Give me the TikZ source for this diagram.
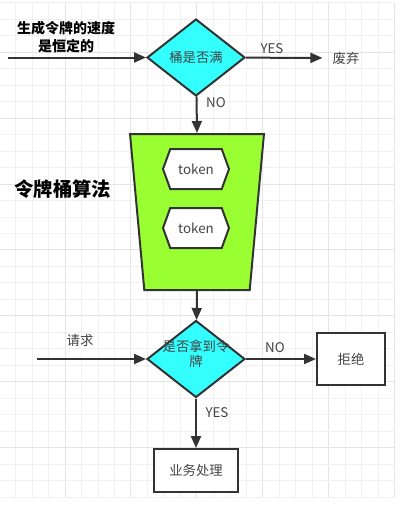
\documentclass[tikz,border=0pt]{standalone}
\usepackage{fontspec}
\setmainfont{Noto Sans CJK SC}
\usepackage{tikz}
\usetikzlibrary{arrows.meta,positioning,shapes.geometric,shapes.symbols}
\definecolor{linegray}{HTML}{333333}
\definecolor{txtgray}{HTML}{444444}
\definecolor{dcyan}{HTML}{33FFFF}
\definecolor{bgreen}{HTML}{99FF33}
\definecolor{gridminor}{HTML}{F0F0F0}
\definecolor{gridmajor}{HTML}{E4E4E4}

\begin{document}
\begin{tikzpicture}[x=0.75pt,y=-0.75pt,font=\fontsize{10}{12}\selectfont]
      \tikzstyle{dia}=[diamond,draw=linegray,line width=1.5pt,fill=dcyan,text=txtgray,
        minimum width=73.5pt,minimum height=57.75pt,inner sep=0pt]
      \tikzstyle{box}=[rectangle,draw=linegray,line width=1.5pt,fill=white,text=txtgray]
      \tikzstyle{tok}=[signal,signal to=east and west,signal pointer angle=140,draw=linegray,
        line width=1.5pt,fill=white,text=txtgray,minimum width=49.5pt,minimum height=30pt]
      \tikzstyle{arr}=[draw=linegray,line width=1.5pt,-{Triangle[length=9pt,width=7.5pt]}]
      \tikzstyle{lbl}=[text=txtgray,inner sep=0pt]
      \useasboundingbox (0,0) rectangle (414,511);
      \fill[white] (0,0) rectangle (414,511);
      % grid
      \foreach \k in {-1,...,23}{
        \pgfmathtruncatemacro{\m}{mod(\k+8,4)}
        \ifnum\m=3 \def\gc{gridmajor}\else\def\gc{gridminor}\fi
        \draw[\gc,line width=0.75pt] (15.7+16.47*\k,2.9) -- (15.7+16.47*\k,497.7);
      }
      \foreach \k in {0,...,30}{
        \pgfmathtruncatemacro{\m}{mod(\k,4)}
        \ifnum\m=3 \def\gc{gridmajor}\else\def\gc{gridminor}\fi
        \draw[\gc,line width=0.75pt] (-0.8,2.9+16.47*\k) -- (394.5,2.9+16.47*\k);
      }
      % shapes
      \node[dia] (full) at (196,57.5) {桶是否满};
      \node[trapezium,trapezium stretches=true,trapezium angle=82.3,shape border rotate=180,
        draw=linegray,line width=1.5pt,fill=bgreen,minimum width=100.5pt,minimum height=117pt]
        (bucket) at (197,212) {};
      \node[tok] (tokA) at (196,169) {token};
      \node[tok] (tokB) at (196,228) {token};
      \node[dia] (got) at (196,359) {\smash{\begin{tabular}{@{}c@{}}是否拿到令\\[-1pt]牌\end{tabular}}};
      \node[box,minimum width=51pt,minimum height=39pt] (reject) at (351,359) {拒绝};
      \node[box,minimum width=63pt,minimum height=32.25pt] (work) at (196,470.5) {业务处理};
      \node[lbl,inner xsep=7.5pt] (drop) at (346,58) {废弃};
      \coordinate (gen) at (8,57.5);
      \coordinate (req) at (37,359);
      % texts
      \node[font=\fontsize{10.5}{13}\bfseries,align=center] (rate) at (66,37) {生成令牌的速度\\是恒定的};
      \node[font=\fontsize{14.5}{16}\bfseries] (algo) at (63,189) {令牌桶算法};
      % connectors
      \draw[arr] (gen) -- (full);
      \draw[arr] (full) -- (drop);
      \node[lbl] at (272,49) {YES};
      \draw[arr] (full) -- (bucket.north);
      \node[lbl] at (216,103) {NO};
      \draw[arr] (bucket.south) -- (got);
      \draw[arr] (req) -- (got);
      \node[lbl] at (80,340) {请求};
      \draw[arr] (got) -- (reject);
      \node[lbl] at (275,348) {NO};
      \draw[arr] (got) -- (work);
      \node[lbl] at (217,413) {YES};
    \end{tikzpicture}
\end{document}
